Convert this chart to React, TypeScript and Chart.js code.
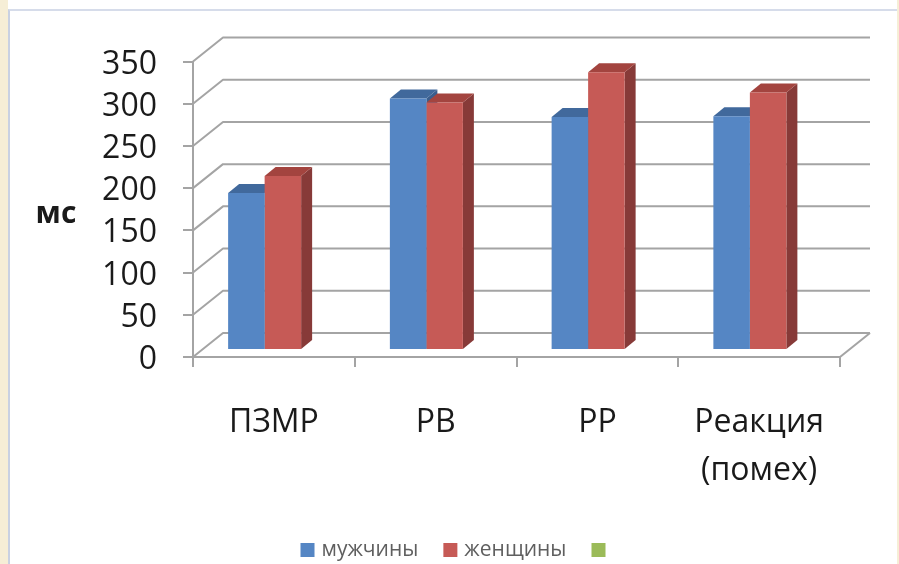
import { useEffect, useRef } from 'react';
import { Chart, registerables } from 'chart.js';

Chart.register(...registerables);

// ---- data ----
const categories: (string | string[])[] = ['ПЗМР', 'РВ', 'РР', ['Реакция', '(помех)']];
const menValues = [186, 298, 276, 277];
const womenValues = [206, 293, 329, 305];
const emptySeries: (number | null)[] = [null, null, null, null];
const seriesNames = ['мужчины', 'женщины', ''];
const yTickValues = [0, 50, 100, 150, 200, 250, 300, 350];
const yUnit = 'мс';

// ---- styling ----
const FONT = "'Open Sans', 'DejaVu Sans', sans-serif";
const GRID = '#a4a4a4';
const frontColors = ['#5586c4', '#c65a56', '#9bbb59'];
const topColors = ['#41699c', '#a3443f', '#7d9a45'];
const sideColors = ['#3a5e8e', '#873a38', '#6f8a3c'];

// perspective of the back wall and of each column
const WALL_DX = 30;
const WALL_DY = -24;
const BAR_SHIFT_X = 9;
const BAR_SHIFT_Y = -7;
const BAR_DX = 11;
const BAR_DY = -9;

const prismPlugin = {
  id: 'prism3d',
  beforeDatasetsDraw(chart: any) {
    const { ctx, chartArea: a, scales } = chart;
    const y = scales.y;
    ctx.save();
    ctx.strokeStyle = GRID;
    ctx.lineWidth = 2;
    ctx.lineJoin = 'round';
    // side wall diagonals + back wall gridlines
    for (const v of yTickValues) {
      const py = y.getPixelForValue(v);
      ctx.beginPath();
      ctx.moveTo(a.left, py);
      ctx.lineTo(a.left + WALL_DX, py + WALL_DY);
      ctx.lineTo(a.right + WALL_DX, py + WALL_DY);
      ctx.stroke();
    }
    // right edge of the floor
    ctx.beginPath();
    ctx.moveTo(a.right, a.bottom);
    ctx.lineTo(a.right + WALL_DX, a.bottom + WALL_DY);
    ctx.stroke();
    ctx.restore();

    // columns sit a little deeper than the front edge of the floor
    ctx.save();
    ctx.translate(BAR_SHIFT_X, BAR_SHIFT_Y);
    const n = chart.data.labels.length;
    for (let i = 0; i < n; i++) {
      chart.data.datasets.forEach((ds: any, d: number) => {
        if (ds.data[i] == null) return;
        const el = chart.getDatasetMeta(d).data[i];
        if (!el) return;
        const { x, y: top, base, width } = el.getProps(['x', 'y', 'base', 'width'], true);
        const x0 = x - width / 2;
        const x1 = x + width / 2;
        // side face
        ctx.fillStyle = sideColors[d];
        ctx.beginPath();
        ctx.moveTo(x1, top);
        ctx.lineTo(x1 + BAR_DX, top + BAR_DY);
        ctx.lineTo(x1 + BAR_DX, base + BAR_DY);
        ctx.lineTo(x1, base);
        ctx.closePath();
        ctx.fill();
        // top face
        ctx.fillStyle = topColors[d];
        ctx.beginPath();
        ctx.moveTo(x0, top);
        ctx.lineTo(x1, top);
        ctx.lineTo(x1 + BAR_DX, top + BAR_DY);
        ctx.lineTo(x0 + BAR_DX, top + BAR_DY);
        ctx.closePath();
        ctx.fill();
      });
    }
  },
  afterDatasetsDraw(chart: any) {
    chart.ctx.restore();
  },
  afterDraw(chart: any) {
    const { ctx } = chart;
    ctx.save();
    // unit label
    ctx.font = `bold 30px ${FONT}`;
    ctx.fillStyle = '#1a1a1a';
    ctx.textAlign = 'center';
    ctx.textBaseline = 'middle';
    ctx.fillText(yUnit, 56, 214);

    // legend
    ctx.font = `21px ${FONT}`;
    const box = 14;
    const gap = 7;
    const between = 25;
    const widths = seriesNames.map((s) => box + (s ? gap + ctx.measureText(s).width : 0));
    const total = widths.reduce((p, c) => p + c, 0) + between * (widths.length - 1);
    let lx = 453 - total / 2;
    const ly = 550;
    ctx.textAlign = 'left';
    seriesNames.forEach((s, d) => {
      ctx.fillStyle = frontColors[d];
      ctx.fillRect(lx, ly - box / 2, box, box);
      if (s) {
        ctx.fillStyle = '#5f5f5f';
        ctx.fillText(s, lx + box + gap, ly);
      }
      lx += widths[d] + between;
    });
    ctx.restore();
  },
};

export default function App() {
  const ref = useRef<HTMLCanvasElement | null>(null);

  useEffect(() => {
    if (!ref.current) return;
    const chart = new Chart(ref.current, {
      type: 'bar',
      data: {
        labels: categories,
        datasets: [
          { label: seriesNames[0], data: menValues, backgroundColor: frontColors[0] },
          { label: seriesNames[1], data: womenValues, backgroundColor: frontColors[1] },
          { label: seriesNames[2], data: emptySeries, backgroundColor: frontColors[2] },
        ],
      },
      options: {
        responsive: false,
        animation: false,
        devicePixelRatio: 1,
        layout: { padding: { left: 0, right: 59, top: 61.5, bottom: 0 } },
        datasets: { bar: { categoryPercentage: 0.677, barPercentage: 1 } },
        plugins: { legend: { display: false }, tooltip: { enabled: false } },
        scales: {
          x: {
            afterFit: (s: any) => { s.height = 207; },
            grid: { display: true, drawOnChartArea: false, offset: true, tickLength: 10, color: GRID, lineWidth: 2 },
            border: { display: true, color: GRID, width: 2 },
            ticks: { color: '#1a1a1a', padding: 32, font: { family: FONT, size: 32, lineHeight: 1.5 }, maxRotation: 0, autoSkip: false },
          },
          y: {
            min: 0,
            max: 350,
            afterFit: (s: any) => { s.width = 193; },
            grid: { display: true, drawOnChartArea: false, tickLength: 10, color: GRID, lineWidth: 2 },
            border: { display: true, color: GRID, width: 2 },
            ticks: { stepSize: 50, color: '#1a1a1a', padding: 26, labelOffset: 3, font: { family: FONT, size: 32 } },
          },
        },
      },
      plugins: [prismPlugin],
    });
    return () => chart.destroy();
  }, []);

  return (
    <div style={{ position: 'fixed', left: 0, top: 0, width: 899, height: 564, background: '#ffffff', overflow: 'hidden' }}>
      <div style={{ position: 'absolute', left: 0, top: 0, width: 8, height: 564, background: '#f6eed6' }} />
      <div style={{ position: 'absolute', right: 0, top: 0, width: 2, height: 564, background: '#f6eed6' }} />
      <div style={{ position: 'absolute', left: 8, top: 9, right: 2, bottom: 0, background: '#ffffff', borderLeft: '2px solid #c9d1e2', borderTop: '2px solid #d6dcea' }} />
      <canvas ref={ref} width={899} height={564} style={{ position: 'absolute', left: 0, top: 0, width: 899, height: 564 }} />
    </div>
  );
}
